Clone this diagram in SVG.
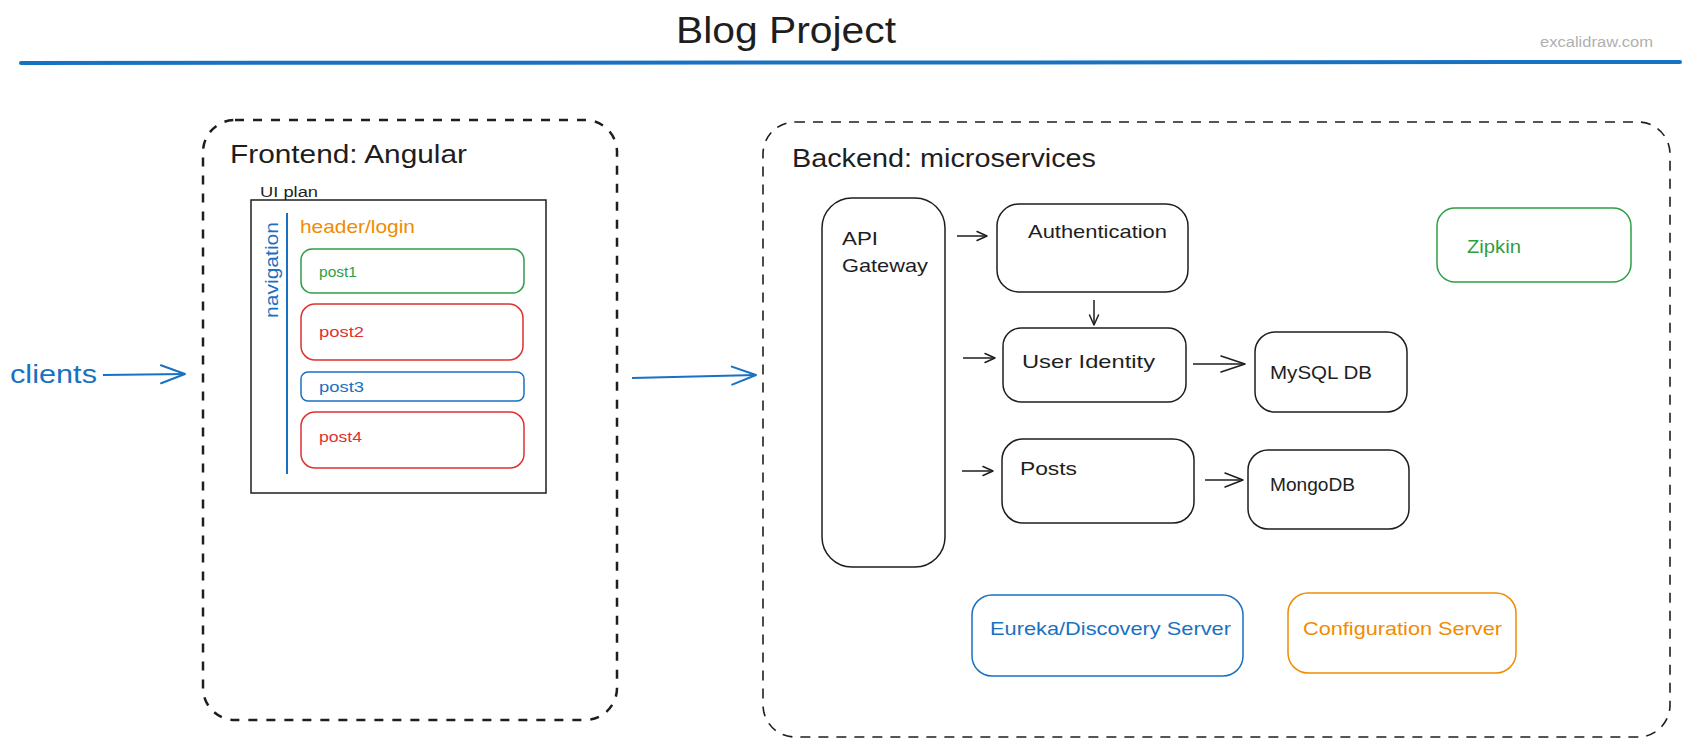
<svg xmlns="http://www.w3.org/2000/svg" width="1689" height="747" viewBox="0 0 1689 747">
<style>
text{font-family:"Liberation Sans","Noto Sans",sans-serif;fill:#1e1e1e}
.box{fill:none;stroke:#1e1e1e;stroke-width:1.5}
.blue{stroke:#1971c2}.green{stroke:#2f9e44}.red{stroke:#e03131}.orange{stroke:#f08c00}
.tblue{fill:#1971c2}.tgreen{fill:#2f9e44}.tred{fill:#e03131}.torange{fill:#f08c00}
.cont{fill:none;stroke:#1e1e1e}
.conn{fill:none;stroke:#1e1e1e;stroke-width:1.5}
.connb{fill:none;stroke:#1971c2;stroke-width:2}
.t19{font-size:19px}
</style>
<defs>
<marker id="m-sm" markerUnits="userSpaceOnUse" markerWidth="12" markerHeight="10" refX="11" refY="5" orient="auto" overflow="visible"><path d="M1,0.5 L11,5 L1,9.5" fill="none" stroke="#1e1e1e" stroke-width="1.5" stroke-linecap="round" stroke-linejoin="round"/></marker>
<marker id="m-md" markerUnits="userSpaceOnUse" markerWidth="20" markerHeight="14" refX="19" refY="7" orient="auto" overflow="visible"><path d="M1,0 L19,7 L1,14" fill="none" stroke="#1e1e1e" stroke-width="1.5" stroke-linecap="round" stroke-linejoin="round"/></marker>
<marker id="m-lg" markerUnits="userSpaceOnUse" markerWidth="26" markerHeight="16" refX="25" refY="8" orient="auto" overflow="visible"><path d="M1,0 L25,8 L1,16" fill="none" stroke="#1e1e1e" stroke-width="1.5" stroke-linecap="round" stroke-linejoin="round"/></marker>
<marker id="m-blue" markerUnits="userSpaceOnUse" markerWidth="26" markerHeight="18" refX="25" refY="9" orient="auto" overflow="visible"><path d="M1,0 L25,9 L1,18" fill="none" stroke="#1971c2" stroke-width="2" stroke-linecap="round" stroke-linejoin="round"/></marker>
</defs>
<rect width="1689" height="747" fill="#ffffff"/>

<g id="title">
<text x="676" y="43" font-size="36" textLength="220" lengthAdjust="spacingAndGlyphs">Blog Project</text>
<line x1="21" y1="63" x2="1680" y2="62" stroke="#1971c2" stroke-width="4" stroke-linecap="round"/>
<text x="1540" y="47" font-size="14" textLength="113" lengthAdjust="spacingAndGlyphs" style="fill:#b0b0b0">excalidraw.com</text>
</g>

<g id="clients">
<text x="10" y="383" font-size="26" class="tblue" textLength="87" lengthAdjust="spacingAndGlyphs">clients</text>
</g>

<g id="frontend">
<rect class="cont" x="203" y="120" width="414" height="600" rx="32" stroke-width="2.5" stroke-dasharray="9 9"/>
<text x="230" y="163" font-size="26" textLength="237" lengthAdjust="spacingAndGlyphs">Frontend: Angular</text>
</g>

<g id="ui-plan">
<text x="260" y="197" font-size="14" textLength="58" lengthAdjust="spacingAndGlyphs">UI plan</text>
<rect x="251" y="200" width="295" height="293" fill="none" stroke="#1e1e1e" stroke-width="1.5"/>
</g>

<g id="navigation">
<line x1="287" y1="213" x2="287" y2="474" stroke="#1971c2" stroke-width="2"/>
<text transform="translate(278,318) rotate(-90)" x="0" y="0" font-size="19" class="tblue" textLength="96" lengthAdjust="spacingAndGlyphs">navigation</text>
</g>

<g id="header-login">
<text x="300" y="233" font-size="19" class="torange" textLength="115" lengthAdjust="spacingAndGlyphs">header/login</text>
</g>

<g id="post1">
<rect class="box green" x="301" y="249" width="223" height="44" rx="11"/>
<text x="319" y="277" font-size="15" class="tgreen" textLength="38" lengthAdjust="spacingAndGlyphs">post1</text>
</g>
<g id="post2">
<rect class="box red" x="301" y="304" width="222" height="56" rx="14"/>
<text x="319" y="337" font-size="15" class="tred" textLength="45" lengthAdjust="spacingAndGlyphs">post2</text>
</g>
<g id="post3">
<rect class="box blue" x="301" y="372" width="223" height="29" rx="7"/>
<text x="319" y="392" font-size="15" class="tblue" textLength="45" lengthAdjust="spacingAndGlyphs">post3</text>
</g>
<g id="post4">
<rect class="box red" x="301" y="412" width="223" height="56" rx="14"/>
<text x="319" y="442" font-size="15" class="tred" textLength="43" lengthAdjust="spacingAndGlyphs">post4</text>
</g>

<g id="backend">
<rect class="cont" x="763" y="122" width="907" height="615" rx="32" stroke-width="1.6" stroke-dasharray="10 8"/>
<text x="792" y="167" font-size="26" textLength="304" lengthAdjust="spacingAndGlyphs">Backend: microservices</text>
</g>

<g id="api-gateway">
<rect class="box" x="822" y="198" width="123" height="369" rx="30"/>
<text x="842" y="245" class="t19" textLength="36" lengthAdjust="spacingAndGlyphs">API</text>
<text x="842" y="272" class="t19" textLength="86" lengthAdjust="spacingAndGlyphs">Gateway</text>
</g>

<g id="authentication">
<rect class="box" x="997" y="204" width="191" height="88" rx="22"/>
<text x="1028" y="238" class="t19" textLength="139" lengthAdjust="spacingAndGlyphs">Authentication</text>
</g>

<g id="user-identity">
<rect class="box" x="1003" y="328" width="183" height="74" rx="18"/>
<text x="1022" y="368" class="t19" textLength="133" lengthAdjust="spacingAndGlyphs">User Identity</text>
</g>

<g id="mysql">
<rect class="box" x="1255" y="332" width="152" height="80" rx="20"/>
<text x="1270" y="379" class="t19" textLength="102" lengthAdjust="spacingAndGlyphs">MySQL DB</text>
</g>

<g id="posts">
<rect class="box" x="1002" y="439" width="192" height="84" rx="21"/>
<text x="1020" y="475" class="t19" textLength="57" lengthAdjust="spacingAndGlyphs">Posts</text>
</g>

<g id="mongodb">
<rect class="box" x="1248" y="450" width="161" height="79" rx="20"/>
<text x="1270" y="491" class="t19" textLength="85" lengthAdjust="spacingAndGlyphs">MongoDB</text>
</g>

<g id="zipkin">
<rect class="box green" x="1437" y="208" width="194" height="74" rx="18"/>
<text x="1467" y="253" font-size="18" class="tgreen" textLength="54" lengthAdjust="spacingAndGlyphs">Zipkin</text>
</g>

<g id="eureka">
<rect class="box blue" x="972" y="595" width="271" height="81" rx="20"/>
<text x="990" y="635" class="t19 tblue" textLength="241" lengthAdjust="spacingAndGlyphs">Eureka/Discovery Server</text>
</g>

<g id="config-server">
<rect class="box orange" x="1288" y="593" width="228" height="80" rx="20"/>
<text x="1303" y="635" class="t19 torange" textLength="199" lengthAdjust="spacingAndGlyphs">Configuration Server</text>
</g>

<g id="connectors">
<path class="connb" d="M103,375 L185,374" marker-end="url(#m-blue)"/>
<path class="connb" d="M632,378 L756,375" marker-end="url(#m-blue)"/>
<path class="conn" d="M957,236 L987,236" marker-end="url(#m-sm)"/>
<path class="conn" d="M963,358 L995,358" marker-end="url(#m-sm)"/>
<path class="conn" d="M962,471 L993,471" marker-end="url(#m-sm)"/>
<path class="conn" d="M1094,300 L1094,325" marker-end="url(#m-sm)"/>
<path class="conn" d="M1193,364 L1245,364" marker-end="url(#m-lg)"/>
<path class="conn" d="M1205,480 L1243,480" marker-end="url(#m-md)"/>
</g>
</svg>
